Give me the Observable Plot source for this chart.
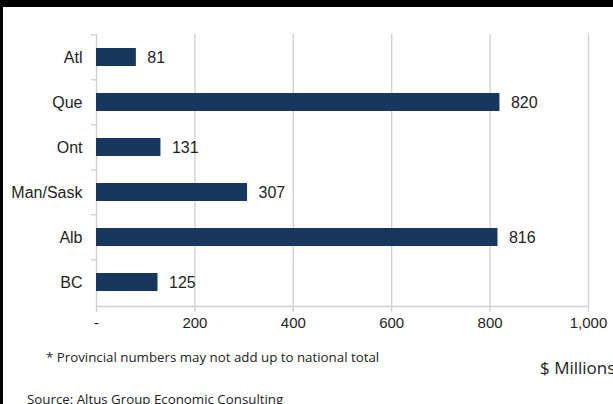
<!DOCTYPE html>
<html>
<head>
<meta charset="utf-8">
<script src="https://cdn.jsdelivr.net/npm/d3@7"></script>
<script src="https://cdn.jsdelivr.net/npm/@observablehq/plot@0.6"></script>
<style>
  html, body { margin: 0; padding: 0; background: #fff; }
  #wrap { position: relative; width: 613px; height: 404px; overflow: hidden; background: #fff; }
  #topband { position: absolute; left: 0; top: 0; width: 613px; height: 7px; background: #000; }
  #leftband { position: absolute; left: 0; top: 0; width: 3px; height: 404px; background: #000; }
  #chart { position: absolute; left: 0; top: 0; }
  .note { position: absolute; font-family: "Open Sans", sans-serif; color: #222; white-space: nowrap; line-height: 1; }
</style>
</head>
<body>
<div id="wrap">
  <div id="chart"></div>
  <div id="topband"></div>
  <div id="leftband"></div>
  <div class="note" id="foot" style="left:46px; top:351px; font-size:13.3px;"></div>
  <div class="note" id="unit" style="left:540px; top:359px; font-size:17px;"></div>
  <div class="note" id="src" style="left:27px; top:393px; font-size:13.3px;"></div>
</div>
<script>
const regions = ["Atl", "Que", "Ont", "Man/Sask", "Alb", "BC"];
const values = [81, 820, 131, 307, 816, 125];
const xTicks = [0, 200, 400, 600, 800, 1000];
const footnote = "* Provincial numbers may not add up to national total";
const unitLabel = "$ Millions";
const sourceLabel = "Source: Altus Group Economic Consulting";

const data = regions.map((r, i) => ({region: r, value: values[i]}));

const W = 613, H = 404, mt = 34, mb = 98, ml = 96, mr = 25;
const half = (H - mt - mb) / regions.length / 2;
const grid = "#cfcfcf";
const ink = "#1e1e1e";

const chart = Plot.plot({
  width: W,
  height: H,
  marginTop: mt,
  marginBottom: mb,
  marginLeft: ml,
  marginRight: mr,
  style: {fontFamily: "Liberation Sans, Arial, sans-serif", background: "transparent", color: ink},
  x: {domain: [0, 1000]},
  y: {domain: regions, paddingInner: 0.6, paddingOuter: 0.3},
  marks: [
    Plot.gridX(xTicks, {stroke: grid, strokeOpacity: 1, strokeWidth: 1.3}),
    Plot.axisX({ticks: xTicks, tickSize: 6, stroke: grid, strokeOpacity: 1, strokeWidth: 1.3,
      tickPadding: 5, fontSize: 15, fill: ink,
      tickFormat: d => d === 0 ? "-" : d3.format(",")(d), label: null}),
    Plot.frame({anchor: "bottom", stroke: grid, strokeWidth: 1.3}),
    Plot.axisY({tickSize: 5, stroke: grid, strokeOpacity: 1, strokeWidth: 1.3, text: null, dy: -half, label: null}),
    Plot.axisY({tickSize: 0, tickPadding: 14, fontSize: 16, fill: ink, label: null}),
    Plot.barX(data, {x: "value", y: "region", fill: "#17375e"}),
    Plot.text(data, {x: "value", y: "region", text: d => String(d.value), textAnchor: "start",
      dx: 11, fontSize: 16, fill: ink})
  ]
});
document.getElementById("chart").append(chart);
document.getElementById("foot").textContent = footnote;
document.getElementById("unit").textContent = unitLabel;
document.getElementById("src").textContent = sourceLabel;
</script>
</body>
</html>
